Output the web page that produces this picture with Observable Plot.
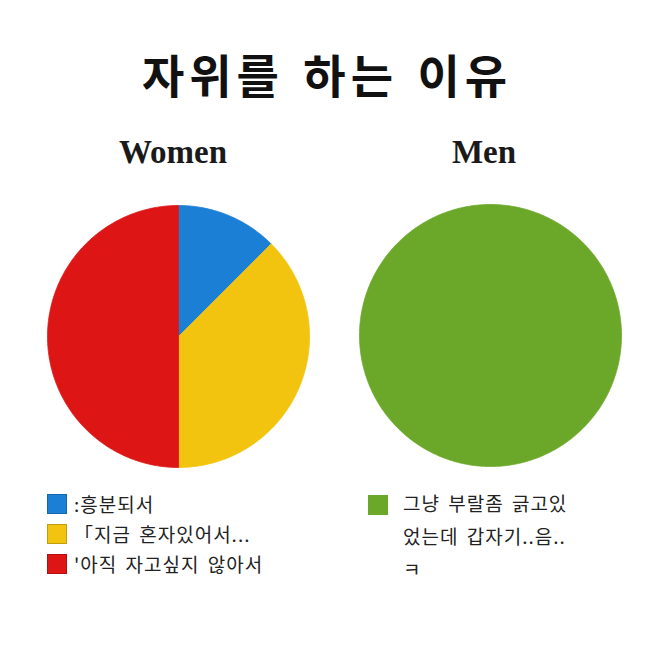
<!DOCTYPE html>
<html>
<head>
<meta charset="utf-8">
<script src="https://cdn.jsdelivr.net/npm/d3@7"></script>
<script src="https://cdn.jsdelivr.net/npm/@observablehq/plot@0.6"></script>
<style>
  html, body { margin: 0; padding: 0; background: #fff; }
  #root { position: relative; width: 670px; height: 672px; overflow: hidden; background: #fff; }
  .abs { position: absolute; }
  #title { left: 0; width: 654px; top: 50px; text-align: center; font-family: "Noto Sans CJK KR", sans-serif; font-weight: 700; font-size: 46px; letter-spacing: 5px; word-spacing: 4px; color: #111; line-height: 1; }
  .head { font-family: "Liberation Serif", "DejaVu Serif", serif; font-weight: 700; font-size: 33px; color: #1a1a1a; text-align: center; width: 200px; line-height: 1; }
  .leg { font-family: "Noto Sans CJK KR", sans-serif; font-size: 19px; letter-spacing: 1px; word-spacing: 3px; color: #222; }
  .row { position: absolute; display: flex; align-items: center; white-space: nowrap; }
  .sw { width: 20px; height: 20px; box-sizing: border-box; margin-right: 7px; }
  .line { position: absolute; white-space: nowrap; }
</style>
</head>
<body>
<div id="root">
  <div id="title" class="abs">자위를 하는 이유</div>
  <div class="abs head" style="left:73px; top:136px;">Women</div>
  <div class="abs head" style="left:384px; top:136px;">Men</div>
  <div id="womenPie" class="abs" style="left:47px; top:205px;"></div>
  <div id="menPie" class="abs" style="left:359px; top:204px;"></div>
  <div id="womenLegend" class="abs leg" style="left:47px; top:490px;"></div>
  <div id="menLegend" class="abs leg" style="left:368px; top:489px;"></div>
</div>
<script>
// ---- data ----
const womenLabels = [":흥분되서", "「지금 혼자있어서...", "'아직 자고싶지 않아서"];
const womenValues = [12.5, 37.5, 50];
const womenColors = ["#1b7fd6", "#f2c40f", "#de1515"];

const menLabels = ["그냥 부랄좀 긁고있 었는데 갑자기..음.. ㅋ"];
const menLines = ["그냥 부랄좀 긁고있", "었는데 갑자기..음..", "ㅋ"];
const menValues = [100];
const menColors = ["#6ba82a"];

// ---- pie builder ----
function wedges(labels, values) {
  const arcs = d3.pie().sort(null).value(d => d.value)(labels.map((k, i) => ({key: k, value: values[i]})));
  const pts = [];
  arcs.forEach(a => {
    const n = Math.max(2, Math.ceil((a.endAngle - a.startAngle) / 0.01));
    const full = (a.endAngle - a.startAngle) >= 2 * Math.PI - 1e-9;
    if (!full) pts.push({key: a.data.key, x: 0, y: 0});
    for (let i = 0; i <= n; i++) {
      const t = a.startAngle + (a.endAngle - a.startAngle) * i / n;
      pts.push({key: a.data.key, x: Math.sin(t), y: Math.cos(t)});
    }
    if (!full) pts.push({key: a.data.key, x: 0, y: 0});
  });
  return pts;
}

function pie(labels, values, colors, size) {
  return Plot.plot({
    width: size, height: size, margin: 0,
    x: {domain: [-1, 1], axis: null},
    y: {domain: [-1, 1], axis: null},
    color: {domain: labels, range: colors},
    style: {background: "transparent", overflow: "visible"},
    marks: [
      Plot.line(wedges(labels, values), {x: "x", y: "y", z: "key", fill: "key", stroke: "key", strokeWidth: 0.8, curve: "linear"})
    ]
  });
}

document.getElementById("womenPie").append(pie(womenLabels, womenValues, womenColors, 262));
document.getElementById("menPie").append(pie(menLabels, menValues, menColors, 262));

// ---- legends ----
const wl = document.getElementById("womenLegend");
womenLabels.forEach((lab, i) => {
  const r = document.createElement("div");
  r.className = "row";
  r.style.top = (i * 30) + "px";
  r.style.left = "0px";
  const s = document.createElement("div");
  s.className = "sw";
  s.style.background = womenColors[i];
  s.style.border = "1px solid " + d3.color(womenColors[i]).darker(0.6);
  const t = document.createElement("span");
  t.textContent = lab;
  r.append(s, t);
  wl.append(r);
});

const ml = document.getElementById("menLegend");
const ms = document.createElement("div");
ms.className = "sw abs";
ms.style.position = "absolute";
ms.style.left = "0px"; ms.style.top = "6px";
ms.style.background = menColors[0];
ml.append(ms);
menLines.forEach((ln, i) => {
  const d = document.createElement("div");
  d.className = "line";
  d.style.left = "35px";
  d.style.top = (i * 33) + "px";
  d.textContent = ln;
  ml.append(d);
});
</script>
</body>
</html>
